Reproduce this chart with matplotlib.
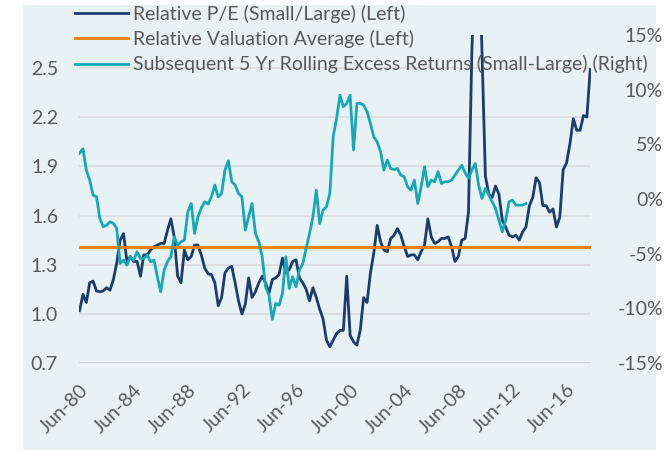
import pandas as pd
import matplotlib.pyplot as plt
import matplotlib.dates as mdates
from matplotlib.patches import Rectangle
from matplotlib.ticker import FuncFormatter

plt.rcParams['font.family'] = ['Lato', 'DejaVu Sans']

# Relative P/E small/large, quarterly from Jun-80
rel_pe = [1.02, 1.12, 1.07, 1.19, 1.20, 1.14, 1.135, 1.14, 1.16, 1.145,
          1.21, 1.31, 1.45, 1.49, 1.32, 1.35, 1.32, 1.32, 1.23, 1.36,
          1.36, 1.39, 1.41, 1.42, 1.43, 1.43, 1.51, 1.58, 1.47, 1.23,
          1.19, 1.39, 1.33, 1.35, 1.42, 1.42, 1.36, 1.28, 1.245, 1.24,
          1.19, 1.05, 1.10, 1.25, 1.28, 1.29, 1.19, 1.08, 1.00, 1.06,
          1.22, 1.10, 1.135, 1.19, 1.23, 1.19, 1.125, 1.21, 1.22, 1.24,
          1.34, 1.25, 1.27, 1.32, 1.33, 1.22, 1.19, 1.15, 1.08, 1.16,
          1.10, 1.03, 0.97, 0.84, 0.80, 0.84, 0.88, 0.90, 0.90, 1.23,
          0.87, 0.83, 0.81, 0.90, 1.10, 1.07, 1.25, 1.37, 1.54, 1.44,
          1.39, 1.38, 1.46, 1.48, 1.52, 1.48, 1.41, 1.35, 1.36, 1.36,
          1.33, 1.38, 1.42, 1.58, 1.47, 1.43, 1.44, 1.46, 1.46, 1.47,
          1.41, 1.32, 1.35, 1.45, 1.46, 1.62, 2.60, 3.30, 3.30, 2.60,
          1.84, 1.73, 1.71, 1.78, 1.73, 1.57, 1.53, 1.48, 1.47, 1.48,
          1.45, 1.50, 1.53, 1.66, 1.71, 1.83, 1.80, 1.66, 1.66, 1.62,
          1.64, 1.53, 1.59, 1.88, 1.92, 2.04, 2.19, 2.12, 2.12, 2.21,
          2.20, 2.49]

rel_avg = 1.41

# Subsequent 5 yr rolling excess returns (small - large), %
excess_ret = [4.2, 4.6, 2.65, 1.74, 0.37, 0.21, -1.77, -2.53, -2.38, -2.07,
              -2.23, -2.68, -5.88, -5.58, -6.04, -5.27, -5.58, -4.82, -5.43, -5.43,
              -5.12, -5.73, -5.58, -7.10, -8.48, -6.49, -5.73, -5.27, -3.45, -4.21,
              -3.90, -3.75, -1.16, -0.40, -3.14, -1.62, -0.8, -0.25, -0.45, 0.21,
              1.28, 0.21, 0.52, 2.65, 3.51, 1.59, 1.28, 0.52, 0.21, -2.84,
              -1.62, -0.40, -3.14, -3.90, -5.27, -8.02, -8.78, -11.0, -9.54, -9.70,
              -8.63, -5.27, -8.17, -7.10, -8.02, -6.49, -5.88, -4.51, -3.14, -1.62,
              0.82, -2.23, -1.0, -0.70, 0.52, 5.7, 7.38, 9.5, 8.45, 8.75,
              9.5, 4.5, 8.75, 8.75, 8.60, 7.99, 6.92, 5.70, 5.24, 4.33,
              2.65, 3.57, 2.80, 2.71, 2.80, 2.20, 2.04, 1.13, 0.82, 1.74,
              -0.40, 1.13, 2.96, 1.13, 1.74, 1.59, 2.50, 1.43, 1.59, 1.59,
              1.74, 2.20, 2.65, 3.1, 2.4, 1.9, 2.65, 3.26, 1.28, 0.06,
              0.98, 0.37, -0.24, -0.85, -1.92, -2.99, -1.92, -0.24, -0.09, -0.55,
              -0.55, -0.55, -0.40]

dates = pd.date_range('1980-06-01', periods=len(rel_pe), freq='3MS')
ret_dates = dates[:len(excess_ret)]

navy = '#1C3B6E'
orange = '#EE7D00'
teal = '#17A8B8'
txt = '#595959'

fig = plt.figure(figsize=(6.69, 4.5), dpi=100)
fig.patches.append(Rectangle((0.034, 0), 0.947, 0.989, transform=fig.transFigure,
                             facecolor='#E8F1F4', edgecolor='none', zorder=-10))

ax = fig.add_axes([0.118, 0.193, 0.765, 0.729])
ax.set_facecolor('none')
l1, = ax.plot(dates, rel_pe, color=navy, lw=2.0, zorder=3)
l2, = ax.plot(dates, [rel_avg] * len(dates), color=orange, lw=2.0, zorder=4)
ax.set_ylim(0.7, 2.7)
ax.set_yticks([0.7, 1.0, 1.3, 1.6, 1.9, 2.2, 2.5])
ax.yaxis.set_major_formatter(FuncFormatter(lambda v, p: f'{v:.1f}'))
ax.grid(axis='y', color='#D9D9D9', lw=1.1, zorder=0)
ax.axhline(0.7, color='#BFBFBF', lw=1.3, zorder=1)

ax.set_xlim(pd.Timestamp('1980-05-15'), pd.Timestamp('2018-03-15'))
ax.xaxis.set_major_locator(mdates.YearLocator(4, month=6, day=1))
ax.xaxis.set_major_formatter(mdates.DateFormatter('Jun-%y'))
for lab in ax.get_xticklabels():
    lab.set_rotation(45)
    lab.set_ha('right')
    lab.set_rotation_mode('anchor')

ax2 = ax.twinx()
l3, = ax2.plot(ret_dates, excess_ret, color=teal, lw=2.0, zorder=5)
ax2.set_ylim(-15, 15)
ax2.set_yticks(range(-15, 16, 5))
ax2.yaxis.set_major_formatter(FuncFormatter(lambda v, p: f'{v:.0f}%'))

for a in (ax, ax2):
    for s in a.spines.values():
        s.set_visible(False)
ax.tick_params(axis='both', length=0, labelsize=14, labelcolor=txt)
ax.tick_params(axis='y', pad=15)
ax.tick_params(axis='x', pad=13)
ax2.tick_params(axis='y', length=0, labelsize=14, labelcolor=txt, pad=52)
for lab in ax2.get_yticklabels():
    lab.set_ha('right')

fig.legend([l1, l2, l3],
           ['Relative P/E (Small/Large) (Left)',
            'Relative Valuation Average (Left)',
            'Subsequent 5 Yr Rolling Excess Returns (Small-Large) (Right)'],
           loc='upper left', bbox_to_anchor=(0.112, 0.99), frameon=False,
           fontsize=14, labelcolor=txt, handlelength=2.75, handletextpad=0.25,
           labelspacing=0.38, borderpad=0, borderaxespad=0)

fig.savefig('out.png', dpi=100)
